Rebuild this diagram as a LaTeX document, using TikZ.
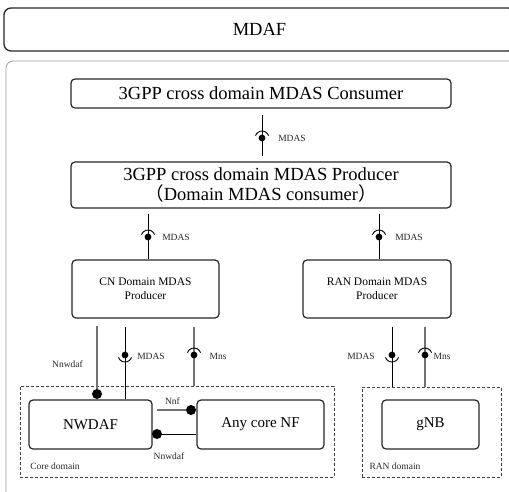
\documentclass[tikz,border=0pt]{standalone}
\usepackage{fontspec}
\setmainfont{Liberation Serif}
\newfontfamily\cjk{Noto Sans CJK SC}
\begin{document}
\begin{tikzpicture}[x=1pt,y=-1pt,
  box/.style={draw=black!85, line width=1.2pt, rounded corners=4pt, inner sep=0pt, align=center},
  dbox/.style={draw=black!75, dash pattern=on 3pt off 2pt, line width=0.7pt, inner sep=0pt},
  lbl/.style={font=\fontsize{9.5}{10}\selectfont, inner sep=0pt, text=black!85},
  blk/.style={draw=black, line width=0.9pt},
  gry/.style={draw=black!55, line width=1.1pt},
  bigtxt/.style={font=\fontsize{18.5}{20}\selectfont},
  midtxt/.style={font=\fontsize{15}{17}\selectfont},
  smalltxt/.style={font=\fontsize{11.5}{14}\selectfont},
  sockU/.pic={\fill (0,0) circle (3.4pt); \draw[line width=0.9pt] (20:7pt) arc (20:160:7pt);},
  sockD/.pic={\fill (0,0) circle (3.4pt); \draw[line width=0.9pt] (200:7pt) arc (200:340:7pt);}
]
\useasboundingbox (0,0) rectangle (509,491);
\begin{scope}
\clip (0,0) rectangle (509,491);
\node[box, bigtxt, rounded corners=7pt, line width=1.3pt, minimum width=511pt, minimum height=43pt] (mdaf) at (259.5,29.5) {MDAF};
\node[draw=black!40, line width=0.8pt, rounded corners=7pt, inner sep=0pt, minimum width=514pt, minimum height=440pt] (outer) at (263,281) {};
\end{scope}

% main boxes
\node[box, bigtxt, minimum width=380pt, minimum height=29pt] (cons) at (261,93.5) {3GPP cross domain MDAS Consumer};
\node[box, bigtxt, minimum width=380pt, minimum height=46pt] (prod) at (261,185) {3GPP cross domain MDAS Producer\\{\cjk （}Domain MDAS consumer{\cjk ）}};
\node[box, smalltxt, minimum width=147pt, minimum height=58pt] (cn) at (145.5,289) {CN Domain MDAS\\Producer};
\node[box, smalltxt, minimum width=148pt, minimum height=58pt] (ran) at (377,289) {RAN Domain MDAS\\Producer};

% domains
\node[dbox, minimum width=314pt, minimum height=91pt] (core) at (177,431.5) {};
\node[dbox, minimum width=139pt, minimum height=90pt] (rdom) at (431.5,432) {};
\node[box, midtxt, minimum width=123pt, minimum height=49pt] (nwdaf) at (90.5,424.5) {NWDAF};
\node[box, midtxt, minimum width=127pt, minimum height=49pt] (anynf) at (260.5,424.5) {Any core NF};
\node[box, midtxt, minimum width=97pt, minimum height=49pt] (gnb) at (430.5,424.5) {gNB};

% x positions
\coordinate (xa) at (262,0);
\coordinate (xb) at (148,0);
\coordinate (xc) at (379,0);
\coordinate (x1) at (125,0);
\coordinate (x2) at (194,0);
\coordinate (x3) at (392,0);
\coordinate (x4) at (425,0);

% consumer -> producer
\draw[blk, shorten <=6pt, shorten >=5pt] (cons.south -| xa) -- (prod.north -| xa);
\pic at (262,138) {sockU};
\node[lbl] (lm1) at (292,138) {MDAS};

% producer -> CN / RAN
\draw[blk, shorten <=5pt] (prod.south -| xb) -- (cn.north -| xb);
\pic at (148,237) {sockU};
\node[lbl] (lm2) at (176,237) {MDAS};
\draw[blk, shorten <=5pt] (prod.south -| xc) -- (ran.north -| xc);
\pic at (379,237) {sockU};
\node[lbl] (lm3) at (409,237) {MDAS};

% CN -> core domain
\coordinate (d1) at (97,394);
\draw[gry, shorten <=7pt] (cn.south -| d1) -- (d1);
\fill (d1) circle (5pt);
\node[lbl] (ln1) at (67.5,364) {Nnwdaf};
\draw[blk, shorten <=8pt] (cn.south -| x1) -- (nwdaf.north -| x1);
\pic at (125,355) {sockD};
\node[lbl] (lm4) at (151,356) {MDAS};
\draw[gry, shorten <=8pt] (cn.south -| x2) -- (core.north -| x2);
\pic at (194,355) {sockU};
\node[lbl] (lmn1) at (218,356) {Mns};

% RAN -> RAN domain
\draw[blk, shorten <=8pt] (ran.south -| x3) -- (rdom.north -| x3);
\pic at (392,355) {sockD};
\node[lbl] (lm5) at (361,356) {MDAS};
\draw[gry, shorten <=8pt] (ran.south -| x4) -- (rdom.north -| x4);
\pic at (425,355) {sockU};
\node[lbl] (lmn2) at (442,356) {Mns};

% NWDAF <-> Any core NF
\coordinate (n1) at (191,410);
\draw[gry, shorten <=4pt] (nwdaf.east |- n1) -- (n1);
\fill (n1) circle (5pt);
\node[lbl] (lnf) at (172.5,401) {Nnf};
\coordinate (n2) at (157,434);
\draw[blk] (n2) -- (anynf.west |- n2);
\fill (n2) circle (5pt);
\node[lbl] (ln2) at (169,456) {Nnwdaf};

\node[lbl] (lcore) at (55,466) {Core domain};
\node[lbl] (lran) at (395,466) {RAN domain};
\end{tikzpicture}
\end{document}
